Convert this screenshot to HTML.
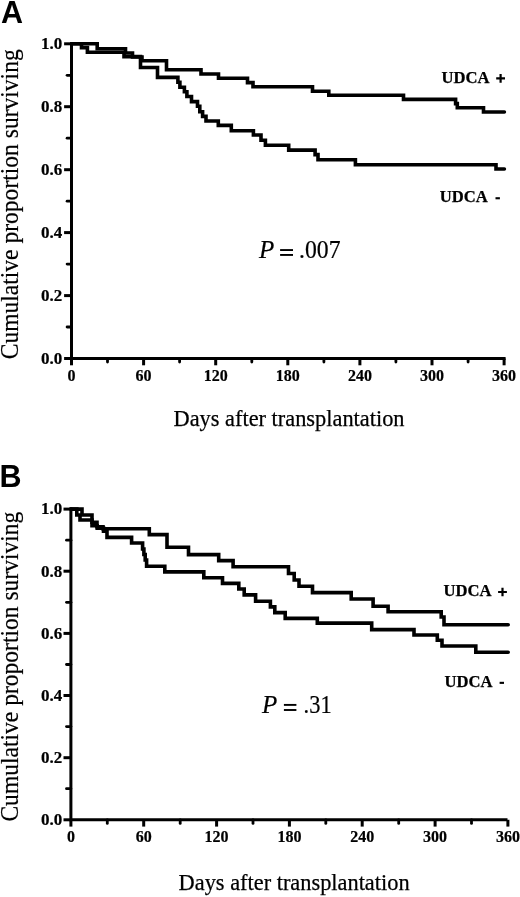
<!DOCTYPE html>
<html><head><meta charset="utf-8"><style>
html,body{margin:0;padding:0;background:#fff;}
svg{display:block;will-change:transform;}
.tk{font-family:"Liberation Serif",serif;font-weight:bold;font-size:17px;fill:#000;stroke:#000;stroke-width:0.2px;}
.tx{font-family:"Liberation Serif",serif;font-weight:bold;font-size:16px;fill:#000;stroke:#000;stroke-width:0.2px;}
.lt{font-family:"Liberation Sans",sans-serif;font-weight:bold;font-size:30.5px;fill:#000;}
.pv{font-family:"Liberation Serif",serif;font-size:25px;fill:#000;stroke:#000;stroke-width:0.2px;}
.ud{font-family:"Liberation Serif",serif;font-weight:bold;font-size:16px;fill:#000;stroke:#000;stroke-width:0.25px;}
.yl{font-family:"Liberation Serif",serif;font-size:24.5px;fill:#000;stroke:#000;stroke-width:0.2px;}
.xl{font-family:"Liberation Serif",serif;font-size:23.3px;fill:#000;stroke:#000;stroke-width:0.25px;}
.cv{fill:none;stroke:#000;stroke-width:3.6;stroke-linejoin:miter;stroke-linecap:round;}
</style></head><body>
<svg width="520" height="897" viewBox="0 0 520 897">
<rect width="520" height="897" fill="#fff"/>
<path d="M71.5,42.3V358.5H505.6" fill="none" stroke="#000" stroke-width="3.0" stroke-linecap="butt"/>
<line x1="64.1" y1="358.5" x2="71.5" y2="358.5" stroke="#000" stroke-width="3.0"/>
<line x1="67.1" y1="327.0" x2="71.5" y2="327.0" stroke="#000" stroke-width="2.8" stroke-linecap="round"/>
<text x="62.2" y="363.8" text-anchor="end" class="tk">0.0</text>
<line x1="64.1" y1="295.6" x2="71.5" y2="295.6" stroke="#000" stroke-width="3.0"/>
<line x1="67.1" y1="264.1" x2="71.5" y2="264.1" stroke="#000" stroke-width="2.8" stroke-linecap="round"/>
<text x="62.2" y="300.9" text-anchor="end" class="tk">0.2</text>
<line x1="64.1" y1="232.6" x2="71.5" y2="232.6" stroke="#000" stroke-width="3.0"/>
<line x1="67.1" y1="201.2" x2="71.5" y2="201.2" stroke="#000" stroke-width="2.8" stroke-linecap="round"/>
<text x="62.2" y="237.9" text-anchor="end" class="tk">0.4</text>
<line x1="64.1" y1="169.7" x2="71.5" y2="169.7" stroke="#000" stroke-width="3.0"/>
<line x1="67.1" y1="138.2" x2="71.5" y2="138.2" stroke="#000" stroke-width="2.8" stroke-linecap="round"/>
<text x="62.2" y="175.0" text-anchor="end" class="tk">0.6</text>
<line x1="64.1" y1="106.7" x2="71.5" y2="106.7" stroke="#000" stroke-width="3.0"/>
<line x1="67.1" y1="75.3" x2="71.5" y2="75.3" stroke="#000" stroke-width="2.8" stroke-linecap="round"/>
<text x="62.2" y="112.0" text-anchor="end" class="tk">0.8</text>
<line x1="64.1" y1="43.8" x2="71.5" y2="43.8" stroke="#000" stroke-width="3.0"/>
<text x="62.2" y="49.1" text-anchor="end" class="tk">1.0</text>
<line x1="71.5" y1="358.5" x2="71.5" y2="365.3" stroke="#000" stroke-width="3.0"/>
<line x1="107.5" y1="358.5" x2="107.5" y2="362.1" stroke="#000" stroke-width="2.8" stroke-linecap="round"/>
<text x="71.5" y="380.5" text-anchor="middle" class="tx">0</text>
<line x1="143.6" y1="358.5" x2="143.6" y2="365.3" stroke="#000" stroke-width="3.0"/>
<line x1="179.6" y1="358.5" x2="179.6" y2="362.1" stroke="#000" stroke-width="2.8" stroke-linecap="round"/>
<text x="143.6" y="380.5" text-anchor="middle" class="tx">60</text>
<line x1="215.7" y1="358.5" x2="215.7" y2="365.3" stroke="#000" stroke-width="3.0"/>
<line x1="251.8" y1="358.5" x2="251.8" y2="362.1" stroke="#000" stroke-width="2.8" stroke-linecap="round"/>
<text x="215.7" y="380.5" text-anchor="middle" class="tx">120</text>
<line x1="287.8" y1="358.5" x2="287.8" y2="365.3" stroke="#000" stroke-width="3.0"/>
<line x1="323.9" y1="358.5" x2="323.9" y2="362.1" stroke="#000" stroke-width="2.8" stroke-linecap="round"/>
<text x="287.8" y="380.5" text-anchor="middle" class="tx">180</text>
<line x1="359.9" y1="358.5" x2="359.9" y2="365.3" stroke="#000" stroke-width="3.0"/>
<line x1="395.9" y1="358.5" x2="395.9" y2="362.1" stroke="#000" stroke-width="2.8" stroke-linecap="round"/>
<text x="359.9" y="380.5" text-anchor="middle" class="tx">240</text>
<line x1="432.0" y1="358.5" x2="432.0" y2="365.3" stroke="#000" stroke-width="3.0"/>
<line x1="468.1" y1="358.5" x2="468.1" y2="362.1" stroke="#000" stroke-width="2.8" stroke-linecap="round"/>
<text x="432.0" y="380.5" text-anchor="middle" class="tx">300</text>
<line x1="504.1" y1="358.5" x2="504.1" y2="365.3" stroke="#000" stroke-width="3.0"/>
<text x="504.1" y="380.5" text-anchor="middle" class="tx">360</text>
<path d="M71.5,43.8H97.2V48.7H125.5V53.0H132.5V57.0H142.0V60.8H166.5V69.7H201.0V74.0H218.5V78.3H247.5V82.6H253.0V86.7H312.5V91.2H328.8V95.3H403.5V99.4H455.6V103.6H457.3V107.7H483.5V112.0H504.4" class="cv"/>
<path d="M71.5,43.8H81.5V47.6H87.4V52.2H124.0V56.6H140.5V67.5H157.5V77.4H177.9V82.3H179.9V87.3H184.4V91.8H186.9V96.5H191.5V101.6H197.5V106.3H199.8V111.8H202.6V116.4H206.0V121.0H218.3V125.4H231.3V130.8H253.4V135.0H261.0V140.2H265.4V145.3H288.7V150.1H315.1V154.6H318.0V159.7H355.4V164.7H496.0V169.0H504.4" class="cv"/>
<text x="1" y="22.9" class="lt">A</text>
<text x="259.1" y="258.3" class="pv" font-style="italic">P</text>
<rect x="280.1" y="249.10" width="12.9" height="1.9" fill="#000"/>
<rect x="280.1" y="254.00" width="12.9" height="1.9" fill="#000"/>
<text x="299.0" y="258.0" class="pv" textLength="41.5" lengthAdjust="spacingAndGlyphs">.007</text>
<text x="441.5" y="82.5" class="ud" textLength="48" lengthAdjust="spacingAndGlyphs">UDCA</text>
<path d="M496.2,78.4H505.0M500.6,74.1V82.7" stroke="#000" stroke-width="2.2" fill="none"/>
<text x="439.8" y="202.3" class="ud" textLength="48" lengthAdjust="spacingAndGlyphs">UDCA</text>
<rect x="495.5" y="197.2" width="4.4" height="2.1" fill="#000"/>
<text transform="translate(18.2,359.3) rotate(-90)" class="yl" textLength="310" lengthAdjust="spacingAndGlyphs">Cumulative proportion surviving</text>
<text x="173.5" y="426.4" class="xl" textLength="231" lengthAdjust="spacingAndGlyphs">Days after transplantation</text>
<path d="M70.9,507.6V819.8H507.5" fill="none" stroke="#000" stroke-width="3.0" stroke-linecap="butt"/>
<line x1="63.5" y1="819.8" x2="70.9" y2="819.8" stroke="#000" stroke-width="3.0"/>
<line x1="66.5" y1="788.7" x2="70.9" y2="788.7" stroke="#000" stroke-width="2.8" stroke-linecap="round"/>
<text x="62.2" y="825.1" text-anchor="end" class="tk">0.0</text>
<line x1="63.5" y1="757.7" x2="70.9" y2="757.7" stroke="#000" stroke-width="3.0"/>
<line x1="66.5" y1="726.6" x2="70.9" y2="726.6" stroke="#000" stroke-width="2.8" stroke-linecap="round"/>
<text x="62.2" y="763.0" text-anchor="end" class="tk">0.2</text>
<line x1="63.5" y1="695.5" x2="70.9" y2="695.5" stroke="#000" stroke-width="3.0"/>
<line x1="66.5" y1="664.5" x2="70.9" y2="664.5" stroke="#000" stroke-width="2.8" stroke-linecap="round"/>
<text x="62.2" y="700.8" text-anchor="end" class="tk">0.4</text>
<line x1="63.5" y1="633.4" x2="70.9" y2="633.4" stroke="#000" stroke-width="3.0"/>
<line x1="66.5" y1="602.3" x2="70.9" y2="602.3" stroke="#000" stroke-width="2.8" stroke-linecap="round"/>
<text x="62.2" y="638.7" text-anchor="end" class="tk">0.6</text>
<line x1="63.5" y1="571.2" x2="70.9" y2="571.2" stroke="#000" stroke-width="3.0"/>
<line x1="66.5" y1="540.2" x2="70.9" y2="540.2" stroke="#000" stroke-width="2.8" stroke-linecap="round"/>
<text x="62.2" y="576.5" text-anchor="end" class="tk">0.8</text>
<line x1="63.5" y1="509.1" x2="70.9" y2="509.1" stroke="#000" stroke-width="3.0"/>
<text x="62.2" y="514.4" text-anchor="end" class="tk">1.0</text>
<line x1="70.9" y1="819.8" x2="70.9" y2="826.6" stroke="#000" stroke-width="3.0"/>
<line x1="107.3" y1="819.8" x2="107.3" y2="823.4" stroke="#000" stroke-width="2.8" stroke-linecap="round"/>
<text x="70.9" y="841.8" text-anchor="middle" class="tx">0</text>
<line x1="143.7" y1="819.8" x2="143.7" y2="826.6" stroke="#000" stroke-width="3.0"/>
<line x1="180.2" y1="819.8" x2="180.2" y2="823.4" stroke="#000" stroke-width="2.8" stroke-linecap="round"/>
<text x="143.7" y="841.8" text-anchor="middle" class="tx">60</text>
<line x1="216.6" y1="819.8" x2="216.6" y2="826.6" stroke="#000" stroke-width="3.0"/>
<line x1="253.0" y1="819.8" x2="253.0" y2="823.4" stroke="#000" stroke-width="2.8" stroke-linecap="round"/>
<text x="216.6" y="841.8" text-anchor="middle" class="tx">120</text>
<line x1="289.4" y1="819.8" x2="289.4" y2="826.6" stroke="#000" stroke-width="3.0"/>
<line x1="325.8" y1="819.8" x2="325.8" y2="823.4" stroke="#000" stroke-width="2.8" stroke-linecap="round"/>
<text x="289.4" y="841.8" text-anchor="middle" class="tx">180</text>
<line x1="362.2" y1="819.8" x2="362.2" y2="826.6" stroke="#000" stroke-width="3.0"/>
<line x1="398.7" y1="819.8" x2="398.7" y2="823.4" stroke="#000" stroke-width="2.8" stroke-linecap="round"/>
<text x="362.2" y="841.8" text-anchor="middle" class="tx">240</text>
<line x1="435.1" y1="819.8" x2="435.1" y2="826.6" stroke="#000" stroke-width="3.0"/>
<line x1="471.5" y1="819.8" x2="471.5" y2="823.4" stroke="#000" stroke-width="2.8" stroke-linecap="round"/>
<text x="435.1" y="841.8" text-anchor="middle" class="tx">300</text>
<line x1="507.9" y1="819.8" x2="507.9" y2="826.6" stroke="#000" stroke-width="3.0"/>
<text x="507.9" y="841.8" text-anchor="middle" class="tx">360</text>
<path d="M70.9,509.1H82.0V515.0H92.0V522.2H97.0V526.8H103.0V528.8H149.3V534.6H167.0V547.3H188.5V554.6H218.7V560.6H233.1V566.8H288.5V573.5H294.2V580.0H299.0V586.2H312.5V592.6H351.2V599.0H373.1V606.2H388.1V611.8H441.2V617.0H444.0V624.8H508.2" class="cv"/>
<path d="M70.9,509.1H76.8V515.0H80.0V520.0H92.0V525.8H97.2V528.1H103.5V531.2H107.0V537.4H131.6V543.0H142.6V549.0H143.9V554.5H145.2V560.0H146.6V566.2H164.8V571.9H203.8V577.7H222.5V583.4H238.8V589.0H244.2V594.9H255.6V601.2H270.4V606.9H274.8V612.6H285.2V618.4H317.3V623.1H371.7V629.6H414.0V635.0H437.3V640.2H442.0V646.0H475.8V652.3H508.2" class="cv"/>
<text x="-0.6" y="487.1" class="lt">B</text>
<text x="262.0" y="713.1" class="pv" font-style="italic">P</text>
<rect x="283.9" y="703.95" width="12.5" height="1.9" fill="#000"/>
<rect x="283.9" y="709.05" width="12.5" height="1.9" fill="#000"/>
<text x="303.6" y="712.8" class="pv" textLength="28.0" lengthAdjust="spacingAndGlyphs">.31</text>
<text x="443.5" y="596.3" class="ud" textLength="48" lengthAdjust="spacingAndGlyphs">UDCA</text>
<path d="M498.1,592.0H506.9M502.5,587.7V596.3" stroke="#000" stroke-width="2.2" fill="none"/>
<text x="444.6" y="686.7" class="ud" textLength="48" lengthAdjust="spacingAndGlyphs">UDCA</text>
<rect x="499.6" y="681.8" width="4.4" height="2.1" fill="#000"/>
<text transform="translate(18.2,821.6) rotate(-90)" class="yl" textLength="310" lengthAdjust="spacingAndGlyphs">Cumulative proportion surviving</text>
<text x="178.6" y="890.3" class="xl" textLength="231" lengthAdjust="spacingAndGlyphs">Days after transplantation</text>
</svg>
</body></html>
